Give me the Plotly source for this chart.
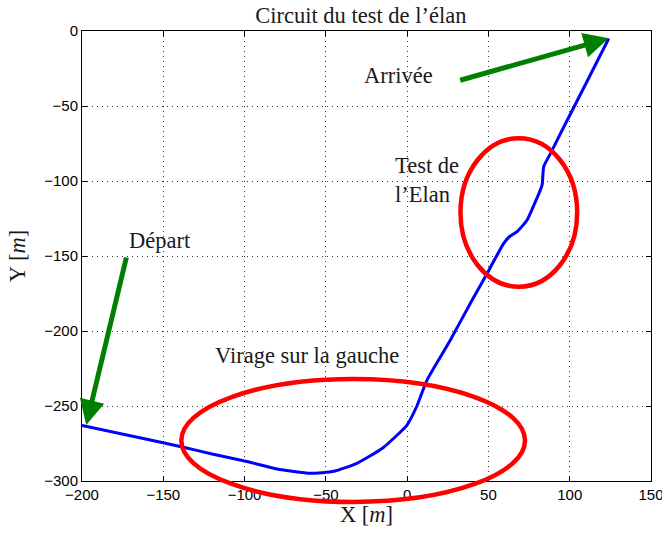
import plotly.graph_objects as go

# Trajectory of the vehicle (metres)
path_x = [-200, -158, -137.6, -120, -98.6, -80, -59.6, -45, -30.9, -15, -0.1, 6, 12.2,
          26.6, 40, 49.2, 55, 59.4, 63, 67.6, 73.8, 78, 83, 84, 88.2, 95.4, 110, 124]
path_y = [-263, -272.7, -277.5, -282, -287, -292, -294.9, -293.5, -288.2, -278, -262.7,
          -250, -232.7, -206, -179.3, -161.6, -150, -141.6, -137, -133.8, -126, -116,
          -102.7, -90.4, -81.6, -66, -35, -5]

# Highlighted zones: (x centre, y centre, x half-width, y half-height)
zone_test = (68.7, -121.0, 35.9, 49.5)
zone_virage = (-33.2, -273.0, 105.7, 41.0)

# Arrows: (tail x, tail y, tip x, tip y)
arrow_depart = (-172.5, -150.0, -197.4, -262.7)
arrow_arrivee = (31.7, -33.1, 124.0, -4.9)

x_range = [-200, 150]
y_range = [-300, 0]
ticks_x = [-200, -150, -100, -50, 0, 50, 100, 150]
ticks_y = [-300, -250, -200, -150, -100, -50, 0]

serif = "Liberation Serif"
sans = "Liberation Sans"


def to_paper_x(v):
    return (v - x_range[0]) / (x_range[1] - x_range[0])


def to_paper_y(v):
    return (v - y_range[0]) / (y_range[1] - y_range[0])


def ellipse_shape(zone):
    cx, cy, a, b = zone
    return dict(type="circle", xref="paper", yref="paper",
                x0=to_paper_x(cx - a), x1=to_paper_x(cx + a),
                y0=to_paper_y(cy - b), y1=to_paper_y(cy + b),
                line=dict(color="#ff0000", width=4.5), layer="above")


def arrow(a):
    tx, ty, hx, hy = a
    return dict(x=hx, y=hy, ax=tx, ay=ty, xref="x", yref="y", axref="x", ayref="y",
                text="", showarrow=True, arrowhead=2, arrowsize=1.0, arrowwidth=5,
                arrowcolor="#008000", standoff=0)


fig = go.Figure()
fig.add_trace(go.Scatter(x=path_x, y=path_y, mode="lines",
                         line=dict(color="#0000ff", width=3, shape="spline", smoothing=0.5),
                         showlegend=False, hoverinfo="skip"))

text_color = "#1a1a1a"
label_font = dict(family=serif, size=22.5, color=text_color)
annotations = [
    arrow(arrow_depart),
    arrow(arrow_arrivee),
    dict(x=-172.5, y=-139.5, xref="x", yref="y", text="Départ", showarrow=False,
         xanchor="left", yanchor="middle", font=label_font),
    dict(x=-27.5, y=-29.5, xref="x", yref="y", text="Arrivée", showarrow=False,
         xanchor="left", yanchor="middle", font=label_font),
    dict(x=-8.5, y=-99.5, xref="x", yref="y", text="Test de<br>l’Elan", showarrow=False,
         xanchor="left", yanchor="middle", align="left", font=label_font),
    dict(x=-119.5, y=-216, xref="x", yref="y", text="Virage sur la gauche", showarrow=False,
         xanchor="left", yanchor="middle", font=label_font),
]

axis_common = dict(showline=True, linecolor="black", linewidth=1, mirror="allticks",
                   ticks="inside", ticklen=5, tickcolor="black",
                   showgrid=True, gridcolor="#333333", griddash="1px,4px", gridwidth=1,
                   zeroline=False, ticklabeloverflow="allow", automargin=False,
                   tickfont=dict(family=sans, size=15, color="black"))

fig.update_layout(
    width=662, height=536,
    margin=dict(l=82, r=11, t=31, b=55),
    paper_bgcolor="white", plot_bgcolor="white",
    title=dict(text="Circuit du test de l’élan", x=0.545, xanchor="center",
               y=0.972, yanchor="middle", yref="container",
               font=dict(family=serif, size=22.5, color=text_color)),
    xaxis=dict(range=x_range, tickvals=ticks_x, **axis_common,
               title=dict(text="X [<i>m</i>]", standoff=4,
                          font=dict(family=serif, size=22.5, color=text_color))),
    yaxis=dict(range=y_range, tickvals=ticks_y, **axis_common,
               title=dict(text="Y [<i>m</i>]", standoff=12,
                          font=dict(family=serif, size=22.5, color=text_color))),
    shapes=[ellipse_shape(zone_test), ellipse_shape(zone_virage)],
    annotations=annotations,
)

fig.write_html("out.html")
